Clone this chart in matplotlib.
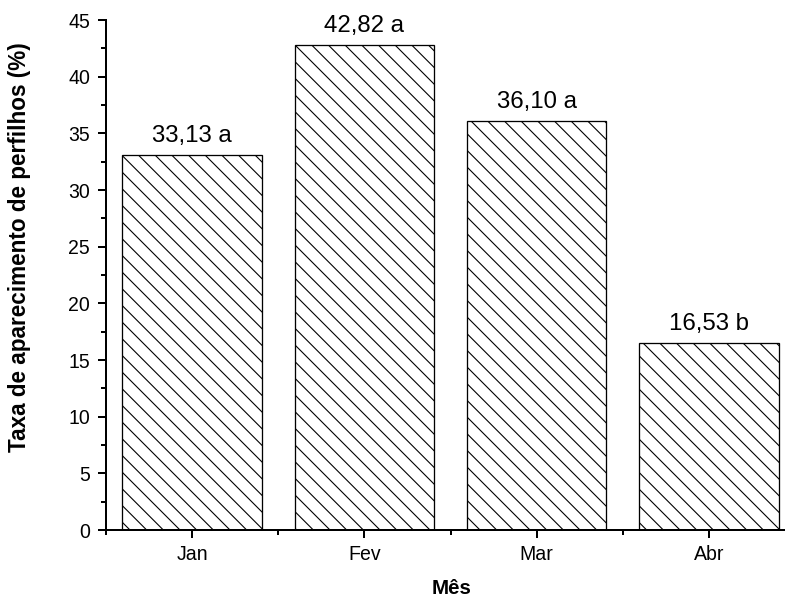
import matplotlib
matplotlib.use("Agg")
import matplotlib.pyplot as plt
from matplotlib.ticker import MultipleLocator

months = ["Jan", "Fev", "Mar", "Abr"]
values = [33.13, 42.82, 36.10, 16.53]
letters = ["a", "a", "a", "b"]

DPI = 50
P = 72.0 / DPI  # points per pixel

plt.rcParams['font.family'] = ['Liberation Sans', 'DejaVu Sans']
plt.rcParams['hatch.linewidth'] = 1.1 * P

W, H = 785, 602
fig = plt.figure(figsize=(W / DPI, H / DPI), dpi=DPI)
left, right, bottom, top = 106, 795, 530, 20
ax = fig.add_axes([left / W, 1 - bottom / H, (right - left) / W, (bottom - top) / H])

x = list(range(len(months)))
ax.bar(x, values, width=0.81, facecolor="white", edgecolor="black",
       linewidth=1.3 * P, hatch="\\", zorder=2)

for xi, v, l in zip(x, values, letters):
    label = f"{v:.2f}".replace(".", ",") + " " + l
    ax.annotate(label, (xi, v), xytext=(0, 12.4 * P), textcoords="offset points",
                ha="center", va="baseline", fontsize=24 * P)

ax.set_xlim(-0.5, 3.5)
ax.set_ylim(0, 45)
ax.set_xticks(x)
ax.set_xticklabels(months)
ax.xaxis.set_minor_locator(MultipleLocator(1, offset=0.5))
ax.yaxis.set_major_locator(MultipleLocator(5))
ax.yaxis.set_minor_locator(MultipleLocator(2.5))

for s in ["top", "right"]:
    ax.spines[s].set_visible(False)
for s in ["left", "bottom"]:
    ax.spines[s].set_linewidth(2.0 * P)

ax.tick_params(which="major", direction="out", length=8 * P, width=2.0 * P,
               labelsize=19.5 * P)
ax.tick_params(axis="y", which="major", pad=8 * P)
ax.tick_params(axis="x", which="major", pad=6.5 * P)
ax.tick_params(which="minor", direction="out", length=5 * P, width=2.0 * P)

ax.set_xlabel("Mês", fontsize=20.5 * P, fontweight="bold", va="top")
ax.xaxis.set_label_coords((452 - left) / (right - left), (bottom - 579) / (bottom - top))
ax.set_ylabel("Taxa de aparecimento de perfilhos (%)", fontsize=22.5 * P, fontweight="bold")
ax.yaxis.set_label_coords((31 - left) / (right - left), (bottom - 247.5) / (bottom - top))

fig.savefig("out.png", dpi=DPI)
